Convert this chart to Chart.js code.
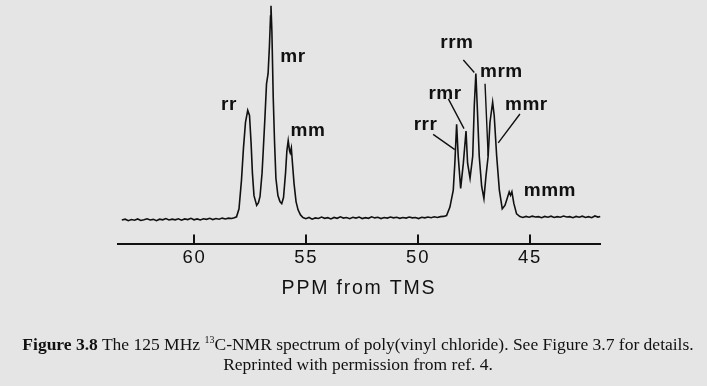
<!DOCTYPE html>
<html><head><meta charset="utf-8">
<script src="https://cdn.jsdelivr.net/npm/chart.js@4.4.1/dist/chart.umd.min.js"></script>
<style>
html,body{margin:0;padding:0;background:#e5e5e5;}
#wrap{position:relative;width:707px;height:386px;overflow:hidden;background:#e5e5e5;}
#c{position:absolute;left:0;top:0;}
#cap{position:absolute;left:0;top:334px;width:716px;text-align:center;font-family:"Liberation Serif",serif;font-size:17.5px;line-height:20px;color:#111;}
#cap sup{font-size:10px;vertical-align:7px;line-height:0;}
</style></head>
<body><div id="wrap"><canvas id="c" width="707" height="386"></canvas>
<div id="cap"><b>Figure 3.8</b> The 125 MHz <sup>13</sup>C-NMR spectrum of poly(vinyl chloride). See Figure 3.7 for details.<br>Reprinted with permission from ref. 4.</div></div>
<script>
// Spectrum: chemical shift (ppm) and relative intensity
const ppm = [
63.25,63.10,62.96,62.82,62.68,62.54,62.40,62.26,62.12,61.98,61.84,61.70,61.56,61.42,61.28,61.14,61.00,60.86,60.72,60.58,60.44,60.30,60.16,60.02,59.88,59.74,59.60,59.46,59.32,59.18,59.04,58.90,58.76,58.62,58.48,58.34,58.22,
58.12,58.01,57.90,57.81,57.72,57.62,57.54,57.47,57.41,57.34,57.22,57.14,57.07,56.98,56.92,56.85,56.78,56.71,56.65,56.60,56.58,56.54,56.48,56.42,56.36,56.27,56.18,56.10,56.02,55.93,55.87,55.81,55.75,55.72,55.67,55.62,55.55,55.46,55.37,55.26,55.15,
55.02,54.88,54.74,54.60,54.46,54.32,54.18,54.04,53.90,53.76,53.62,53.48,53.34,53.20,53.06,52.92,52.78,52.64,52.50,52.36,52.22,52.08,51.94,51.80,51.66,51.52,51.38,51.24,51.10,50.96,50.82,50.68,50.54,50.40,50.26,50.12,49.98,49.84,49.70,49.56,49.42,49.28,49.14,49.00,48.86,
48.73,48.58,48.43,48.36,48.28,48.21,48.10,47.98,47.86,47.79,47.68,47.56,47.49,47.42,47.36,47.27,47.16,47.06,46.97,46.87,46.79,46.67,46.60,46.49,46.37,46.24,46.12,46.00,45.93,45.87,45.81,45.72,45.60,45.45,
45.32,45.18,45.04,44.90,44.76,44.62,44.48,44.34,44.20,44.06,43.92,43.78,43.64,43.50,43.36,43.22,43.08,42.94,42.80,42.66,42.52,42.38,42.24,42.10,41.96,41.86
];
const intensity = [
-1.0,-0.6,-1.3,-0.8,-1.1,-0.5,-1.2,-0.9,-0.4,-1.0,-0.7,-1.3,-0.6,-0.9,-0.3,-1.0,-0.6,-0.9,-0.4,-1.1,-0.5,-0.8,-0.2,-0.9,-0.5,-1.0,-0.4,-0.7,-0.2,-0.8,-0.3,-0.6,-0.1,-0.5,-0.1,-0.3,0.1,
0.5,4.3,17.7,33.0,45.0,50.7,48.3,35.4,21.1,10.5,5.9,7.2,10.1,21.1,33.0,47.4,63.2,68.0,80.9,95.2,100,88.0,56.9,35.4,18.7,10.5,7.7,6.7,9.6,21.1,31.6,36.4,31.6,30.6,33.0,25.8,16.3,7.7,3.8,1.4,0.2,
-0.4,0.2,-0.6,0.0,-0.3,0.4,-0.2,0.1,-0.5,0.2,-0.2,0.5,-0.1,0.2,-0.4,0.3,-0.1,0.4,-0.3,0.1,-0.2,0.5,0.0,0.3,-0.3,0.2,-0.1,0.4,0.0,0.3,-0.2,0.2,-0.1,0.4,0.0,0.2,-0.3,0.3,0.0,0.4,0.1,0.5,0.2,0.6,0.7,
1.1,5.1,13.1,25.8,44.2,29.2,13.9,25.8,41.0,25.8,18.7,29.2,53.1,68.1,53.1,29.2,14.8,9.1,19.6,29.2,45.0,54.6,48.3,29.2,13.1,4.3,5.9,9.9,12.3,10.7,12.3,6.7,1.9,0.6,
0.2,0.7,0.3,0.8,0.4,0.6,0.1,0.7,0.3,0.8,0.2,0.6,0.3,0.9,0.4,0.6,0.1,0.7,0.3,0.8,0.2,0.6,0.1,0.9,0.4,0.7
];
const tickValues = [60, 55, 50, 45];
const axisTitle = 'PPM from TMS';

// Peak assignments (label baseline anchored in data units)
const peakLabels = ['rr','mr','mm','rrr','rmr','rrm','mrm','mmr','mmm'];
const labelPpm   = [58.46, 55.60, 54.93, 49.67, 48.80, 48.27, 46.28, 45.16, 44.11];
const labelInt   = [50.7, 73.7, 38.8, 41.6, 56.1, 80.0, 66.5, 50.7, 10.2];

// Leader lines from label to peak
const leaderFromPpm = [49.33, 48.65, 47.98, 47.01, 45.45];
const leaderFromInt = [39.4, 56.1, 74.5, 63.3, 49.0];
const leaderToPpm   = [48.36, 47.95, 47.49, 46.87, 46.42];
const leaderToInt   = [32.2, 42.1, 68.6, 29.2, 35.4];

const points = ppm.map((p, i) => ({x: p, y: intensity[i]}));

const decorPlugin = {
  id: 'decor',
  beforeDraw(chart) {
    chart.ctx.letterSpacing = '1.8px';
  },
  afterDatasetsDraw(chart) {
    const ctx = chart.ctx;
    const xs = chart.scales.x, ys = chart.scales.y;
    ctx.save();
    ctx.strokeStyle = '#111';
    ctx.lineWidth = 1.4;
    ctx.beginPath();
    for (let i = 0; i < leaderFromPpm.length; i++) {
      ctx.moveTo(xs.getPixelForValue(leaderFromPpm[i]), ys.getPixelForValue(leaderFromInt[i]));
      ctx.lineTo(xs.getPixelForValue(leaderToPpm[i]), ys.getPixelForValue(leaderToInt[i]));
    }
    ctx.stroke();
    ctx.letterSpacing = '0.5px';
    ctx.fillStyle = '#111';
    ctx.font = 'bold 19px "Liberation Sans", Arial, sans-serif';
    ctx.textAlign = 'center';
    ctx.textBaseline = 'alphabetic';
    for (let i = 0; i < peakLabels.length; i++) {
      ctx.fillText(peakLabels[i], xs.getPixelForValue(labelPpm[i]), ys.getPixelForValue(labelInt[i]));
    }
    ctx.restore();
  },
  afterDraw(chart) {
    const ctx = chart.ctx;
    const xs = chart.scales.x;
    const bottom = chart.chartArea.bottom;
    ctx.save();
    ctx.strokeStyle = '#111';
    ctx.lineWidth = 2;
    ctx.beginPath();
    xs.ticks.forEach(t => {
      const px = Math.round(xs.getPixelForValue(t.value));
      ctx.moveTo(px, bottom);
      ctx.lineTo(px, bottom - 10);
    });
    ctx.stroke();
    ctx.restore();
  }
};

new Chart(document.getElementById('c'), {
  type: 'line',
  data: {
    datasets: [{
      data: points,
      borderColor: '#111',
      borderWidth: 1.6,
      pointRadius: 0,
      tension: 0,
      fill: false,
      clip: false
    }]
  },
  options: {
    responsive: false,
    animation: false,
    devicePixelRatio: 1,
    layout: {padding: {left: 118, right: 107, top: 5, bottom: 86}},
    plugins: {legend: {display: false}, tooltip: {enabled: false}},
    scales: {
      x: {
        type: 'linear',
        reverse: true,
        min: 41.87,
        max: 63.42,
        afterBuildTicks: (scale) => { scale.ticks = tickValues.map(v => ({value: v})); },
        grid: {display: false, drawTicks: false, drawOnChartArea: false},
        border: {display: true, color: '#111', width: 2},
        ticks: {color: '#111', padding: 2, maxRotation: 0, autoSkip: false,
                font: {family: '"Liberation Sans", Arial, sans-serif', size: 18.5}},
        title: {display: true, text: axisTitle, color: '#111', padding: {top: 6, bottom: 0},
                font: {family: '"Liberation Sans", Arial, sans-serif', size: 19.5}}
      },
      y: {
        display: false,
        min: -12.5,
        max: 100.4
      }
    }
  },
  plugins: [decorPlugin]
});
</script>
</body></html>
